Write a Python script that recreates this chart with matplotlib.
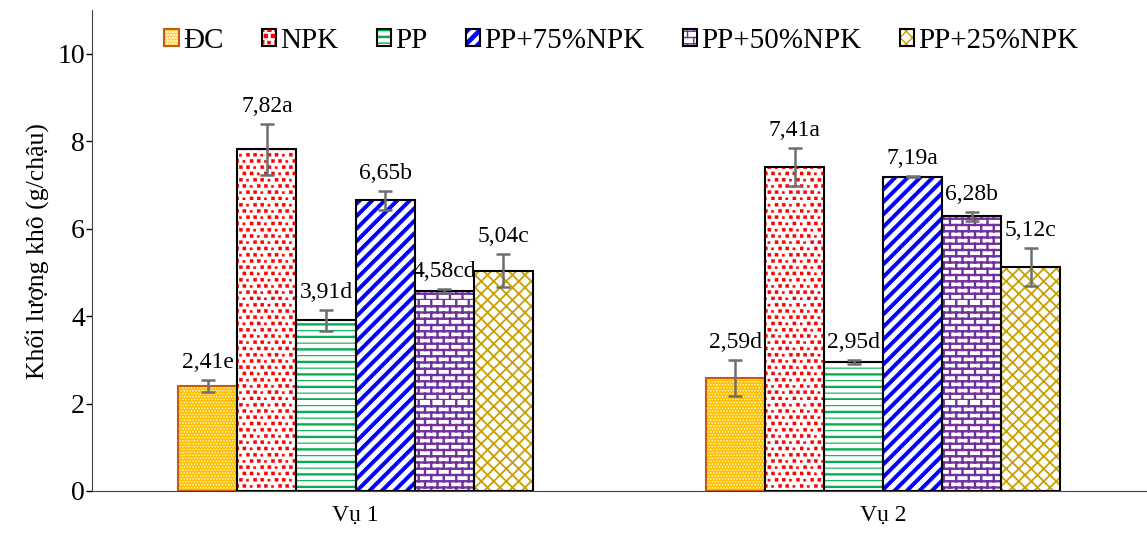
import numpy as np
import matplotlib
matplotlib.use("Agg")
import matplotlib.pyplot as plt
import matplotlib.hatch as mhatch
from matplotlib.path import Path
from matplotlib.legend_handler import HandlerTuple


# ---- custom fill patterns (excel-like), unit square = one hatch tile ----
def rect(x0, y0, w, h):
    return [(x0, y0), (x0 + w, y0), (x0 + w, y0 + h), (x0, y0 + h), (x0, y0)], True


def seg(p, q):
    return [p, q], False


def pat_checker():
    out = []
    n = 34
    for i in range(n):
        for j in range(n):
            out.append(rect((j + 0.5 * (i % 2)) / n, i / n, 0.01, 0.01))
    return out


def pat_squares():
    out = []
    rows, cols = 16, 14
    for i in range(rows):
        for j in range(cols):
            s = 0.031 if (i + j) % 3 else 0.022
            out.append(rect((j + 0.5 * (i % 2)) / cols, i / rows, s, s))
    return out


def pat_green():
    out = []
    n = 8
    for k in range(n):
        y = k / n
        out.append(rect(0, y, 1, 0.012))
        out.append(seg((0, y + 0.5 / n + 0.006), (1, y + 0.5 / n + 0.006)))
    return out


def pat_stripes():
    out = []
    t = 0.046
    n = 8
    for k in range(-n - 1, n + 1):
        c = k / n
        out.append(([(0, c), (1, c + 1), (1, c + 1 + t), (0, c + t), (0, c)], True))
    return out


def pat_bricks():
    out = []
    rows, cols = 16, 8
    for k in range(rows):
        y0, y1 = k / rows, (k + 1) / rows
        out.append(seg((0, y0), (1, y0)))
        for j in range(cols):
            x = (j + 0.5 * (k % 2)) / cols
            out.append(seg((x, y0), (x, y1)))
    return out


def pat_lattice():
    out = []
    n = 8
    for k in range(-n, n + 1):
        out.append(seg((0, k / n), (1, k / n + 1)))
    for k in range(0, 2 * n + 1):
        out.append(seg((0, k / n), (1, k / n - 1)))
    return out


patterns = {'c': pat_checker, 's': pat_squares, 'g': pat_green,
            'w': pat_stripes, 'b': pat_bricks, 'd': pat_lattice}


class CustomHatch(mhatch.HatchPatternBase):
    def __init__(self, hatch, density):
        self.shapes = []
        for ch, fn in patterns.items():
            if ch in hatch:
                self.shapes += fn()
        self.num_vertices = sum(len(v) for v, _ in self.shapes)

    def set_vertices_and_codes(self, vertices, codes):
        i = 0
        for verts, closed in self.shapes:
            n = len(verts)
            vertices[i:i + n] = verts
            codes[i] = Path.MOVETO
            codes[i + 1:i + n] = Path.LINETO
            if closed:
                codes[i + n - 1] = Path.CLOSEPOLY
            i += n


mhatch._hatch_types.append(CustomHatch)

plt.rcParams['font.family'] = ['Liberation Serif', 'DejaVu Serif']

seasons = ["Vụ 1", "Vụ 2"]
treatments = ["ĐC", "NPK", "PP", "PP+75%NPK", "PP+50%NPK", "PP+25%NPK"]
values = {
    "ĐC": [2.41, 2.59],
    "NPK": [7.82, 7.41],
    "PP": [3.91, 2.95],
    "PP+75%NPK": [6.65, 7.19],
    "PP+50%NPK": [4.58, 6.28],
    "PP+25%NPK": [5.04, 5.12],
}
errors = {
    "ĐC": [0.14, 0.41],
    "NPK": [0.58, 0.44],
    "PP": [0.24, 0.05],
    "PP+75%NPK": [0.22, 0.01],
    "PP+50%NPK": [0.05, 0.10],
    "PP+25%NPK": [0.38, 0.44],
}
letters = {
    "ĐC": ["e", "d"],
    "NPK": ["a", "a"],
    "PP": ["d", "d"],
    "PP+75%NPK": ["b", "a"],
    "PP+50%NPK": ["cd", "b"],
    "PP+25%NPK": ["c", "c"],
}

# (face, hatch, hatch colour, outline, hatch linewidth)
styles = {
    "ĐC": ("#FFC000", "c", "#FFF3CC", "#C55A11", 0.3),
    "NPK": ("white", "s", "#FF0000", "black", 0.3),
    "PP": ("white", "g", "#00B050", "black", 0.8),
    "PP+75%NPK": ("white", "w", "#0000FF", "black", 0.5),
    "PP+50%NPK": ("white", "b", "#7030A0", "black", 1.7),
    "PP+25%NPK": ("white", "d", "#C9A000", "black", 1.3),
}

fig = plt.figure(figsize=(11.47, 5.36), dpi=100)
ax = fig.add_axes([0.080, 0.084, 0.920, 0.897])

x = np.arange(len(seasons))
width = 0.112
handles = []
for i, name in enumerate(treatments):
    face, hatch, hcolor, edge, hlw = styles[name]
    pos = x + (i - 2.5) * width
    with plt.rc_context({'hatch.linewidth': hlw}):
        hb = ax.bar(pos, values[name], width, color=face, edgecolor=hcolor,
                    hatch=hatch, linewidth=0, zorder=2)
    ob = ax.bar(pos, values[name], width, facecolor='none', edgecolor=edge,
                linewidth=1.5, zorder=3)
    ax.errorbar(pos, values[name], yerr=errors[name], fmt='none',
                ecolor='#6E6E6E', elinewidth=1.8, capsize=5, capthick=1.8, zorder=4)
    for xp, v, e, l in zip(pos, values[name], errors[name], letters[name]):
        ax.annotate(f"{v:.2f}".replace('.', ',') + l, (xp, v + e),
                    xytext=(0, 5), textcoords='offset points',
                    ha='center', va='bottom', fontsize=17)
    handles.append((hb.patches[0], ob.patches[0]))

ax.set_xlim(-0.5, 1.5)
ax.set_ylim(0, 11)
ax.set_yticks(range(0, 11, 2))
ax.set_xticks(x)
ax.set_xticklabels(seasons)
ax.tick_params(axis='x', length=0, labelsize=17, pad=10)
ax.tick_params(axis='y', length=4, width=1, labelsize=20, pad=1)
ax.set_ylabel("Khối lượng khô (g/chậu)", fontsize=18.5, labelpad=6)
for s in ['top', 'right']:
    ax.spines[s].set_visible(False)
ax.spines['left'].set_color('#404040')
ax.spines['bottom'].set_color('#404040')

ax.legend(handles, treatments, handler_map={tuple: HandlerTuple(ndivide=1)},
          loc='upper center', bbox_to_anchor=(0.502, 1.0), ncol=6, frameon=False,
          fontsize=21, handlelength=0.5, handleheight=0.5, handletextpad=0.15,
          columnspacing=1.3, borderaxespad=0.2)

fig.savefig("out.png", dpi=100)
